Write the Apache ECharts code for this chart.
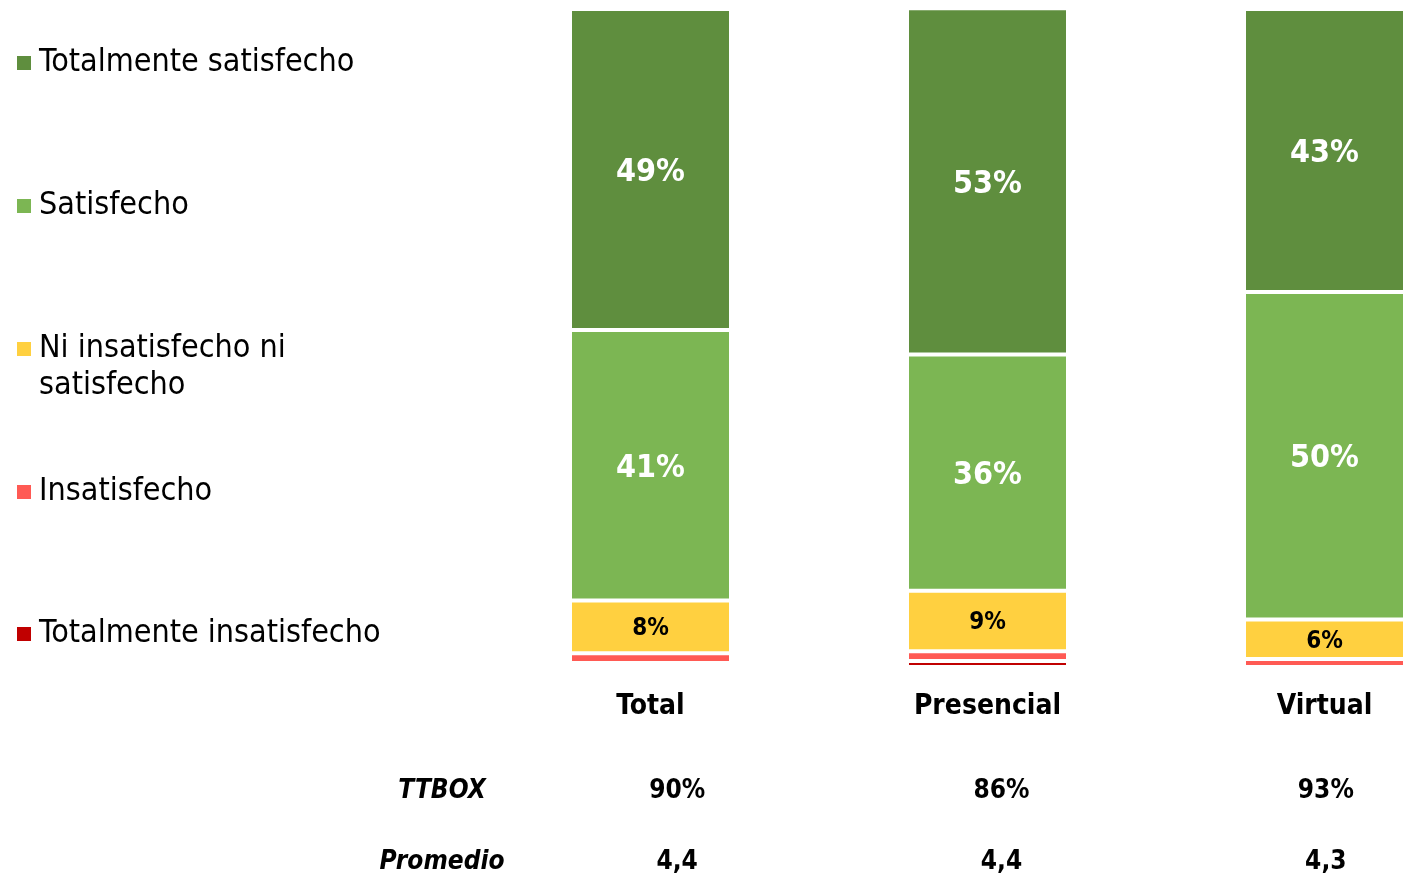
<!DOCTYPE html>
<html>
<head>
<meta charset="utf-8">
<script src="https://cdn.jsdelivr.net/npm/echarts@6/dist/echarts.min.js"></script>
<style>
  html, body { margin: 0; padding: 0; background: #fff; }
  #chart { width: 1404px; height: 875px; }
</style>
</head>
<body>
<div id="chart"></div>
<script>
// categories and values (percent of each column)
var categories = ['Total', 'Presencial', 'Virtual'];
var totInsatisfecho = [0.6, 0.9, 0];
var insatisfecho = [1.5, 1.5, 1.2];
var niNi = [8.0, 9.2, 6.0];
var satisfecho = [41.1, 35.9, 49.8];
var totSatisfecho = [48.8, 52.6, 43.0];
var rowNames = ['TTBOX', 'Promedio'];
var ttbox = [90, 86, 93];
var promedio = [4.4, 4.4, 4.3];

var font = "'DejaVu Sans Condensed', 'DejaVu Sans', sans-serif";
var names = ['Totalmente satisfecho', 'Satisfecho', 'Ni insatisfecho ni satisfecho', 'Insatisfecho', 'Totalmente insatisfecho'];
var colors = ['#5f8e3e', '#7cb653', '#ffd040', '#ff5a54', '#c00000'];
var legendTops = [44.5, 187.5, 293.5, 473.5, 615.5];

var chart = echarts.init(document.getElementById('chart'));

function barSeries(name, color, data, labelOpt) {
    return {
        name: name,
        type: 'bar',
        stack: 'all',
        barWidth: 161,
        clip: false,
        data: data,
        itemStyle: { color: color, borderColor: '#fff', borderWidth: 2 },
        label: labelOpt || { show: false },
        emphasis: { disabled: true }
    };
}
var bigLabel = {
    show: true, position: 'inside', offset: [0, 3], color: '#fff', fontFamily: font,
    fontSize: 32, fontWeight: 'bold',
    formatter: function (p) { return Math.round(p.value) + '%'; }
};
var smallLabel = {
    show: true, position: 'inside', offset: [0, 2], color: '#000', fontFamily: font,
    fontSize: 24, fontWeight: 'bold',
    formatter: function (p) { return Math.round(p.value) + '%'; }
};

var tableData = [];
categories.forEach(function (c, i) {
    tableData.push({ value: [c, rowNames[0]], label: { formatter: ttbox[i] + '%' } });
    tableData.push({ value: [c, rowNames[1]], label: { formatter: promedio[i].toFixed(1).replace('.', ',') } });
});

var option = {
    animation: false,
    legend: names.map(function (n, i) {
        return {
            data: [n],
            orient: 'vertical',
            left: 17,
            top: legendTops[i],
            padding: 0,
            icon: 'rect',
            itemWidth: 14,
            itemHeight: 14,
            itemStyle: { borderWidth: 0 },
            selectedMode: false,
            formatter: i === 2 ? '\nNi insatisfecho ni\nsatisfecho' : '{name}',
            textStyle: { fontFamily: font, fontSize: 32, color: '#000', lineHeight: 37, padding: [0, 0, 0, 3] }
        };
    }),
    grid: [
        { left: 482, width: 1011, top: 9, height: 658, outerBoundsMode: 'none' },
        { left: 515, width: 973, top: 755.5, height: 142, outerBoundsMode: 'none' }
    ],
    xAxis: [{
        type: 'category',
        data: categories,
        axisLine: { show: false },
        axisTick: { show: false },
        axisLabel: { margin: 26, color: '#000', fontFamily: font, fontSize: 28, fontWeight: 'bold' }
    }, {
        type: 'category',
        gridIndex: 1,
        data: categories,
        show: false
    }],
    yAxis: [{
        type: 'value',
        min: 0,
        max: 100,
        show: false
    }, {
        type: 'category',
        gridIndex: 1,
        data: rowNames,
        inverse: true,
        axisLine: { show: false },
        axisTick: { show: false },
        splitLine: { show: false },
        axisLabel: {
            margin: 73, align: 'center', color: '#000', fontFamily: font,
            fontSize: 26, fontWeight: 'bold', fontStyle: 'italic'
        }
    }],
    series: [
        barSeries(names[4], colors[4], totInsatisfecho),
        barSeries(names[3], colors[3], insatisfecho),
        barSeries(names[2], colors[2], niNi, smallLabel),
        barSeries(names[1], colors[1], satisfecho, bigLabel),
        barSeries(names[0], colors[0], totSatisfecho, bigLabel),
        {
            type: 'scatter',
            xAxisIndex: 1,
            yAxisIndex: 1,
            symbolSize: 0,
            data: tableData,
            silent: true,
            itemStyle: { opacity: 1 },
            label: {
                show: true, position: 'inside', color: '#000', opacity: 1, fontFamily: font,
                fontSize: 26, fontWeight: 'bold'
            }
        }
    ]
};
chart.setOption(option);
</script>
</body>
</html>
